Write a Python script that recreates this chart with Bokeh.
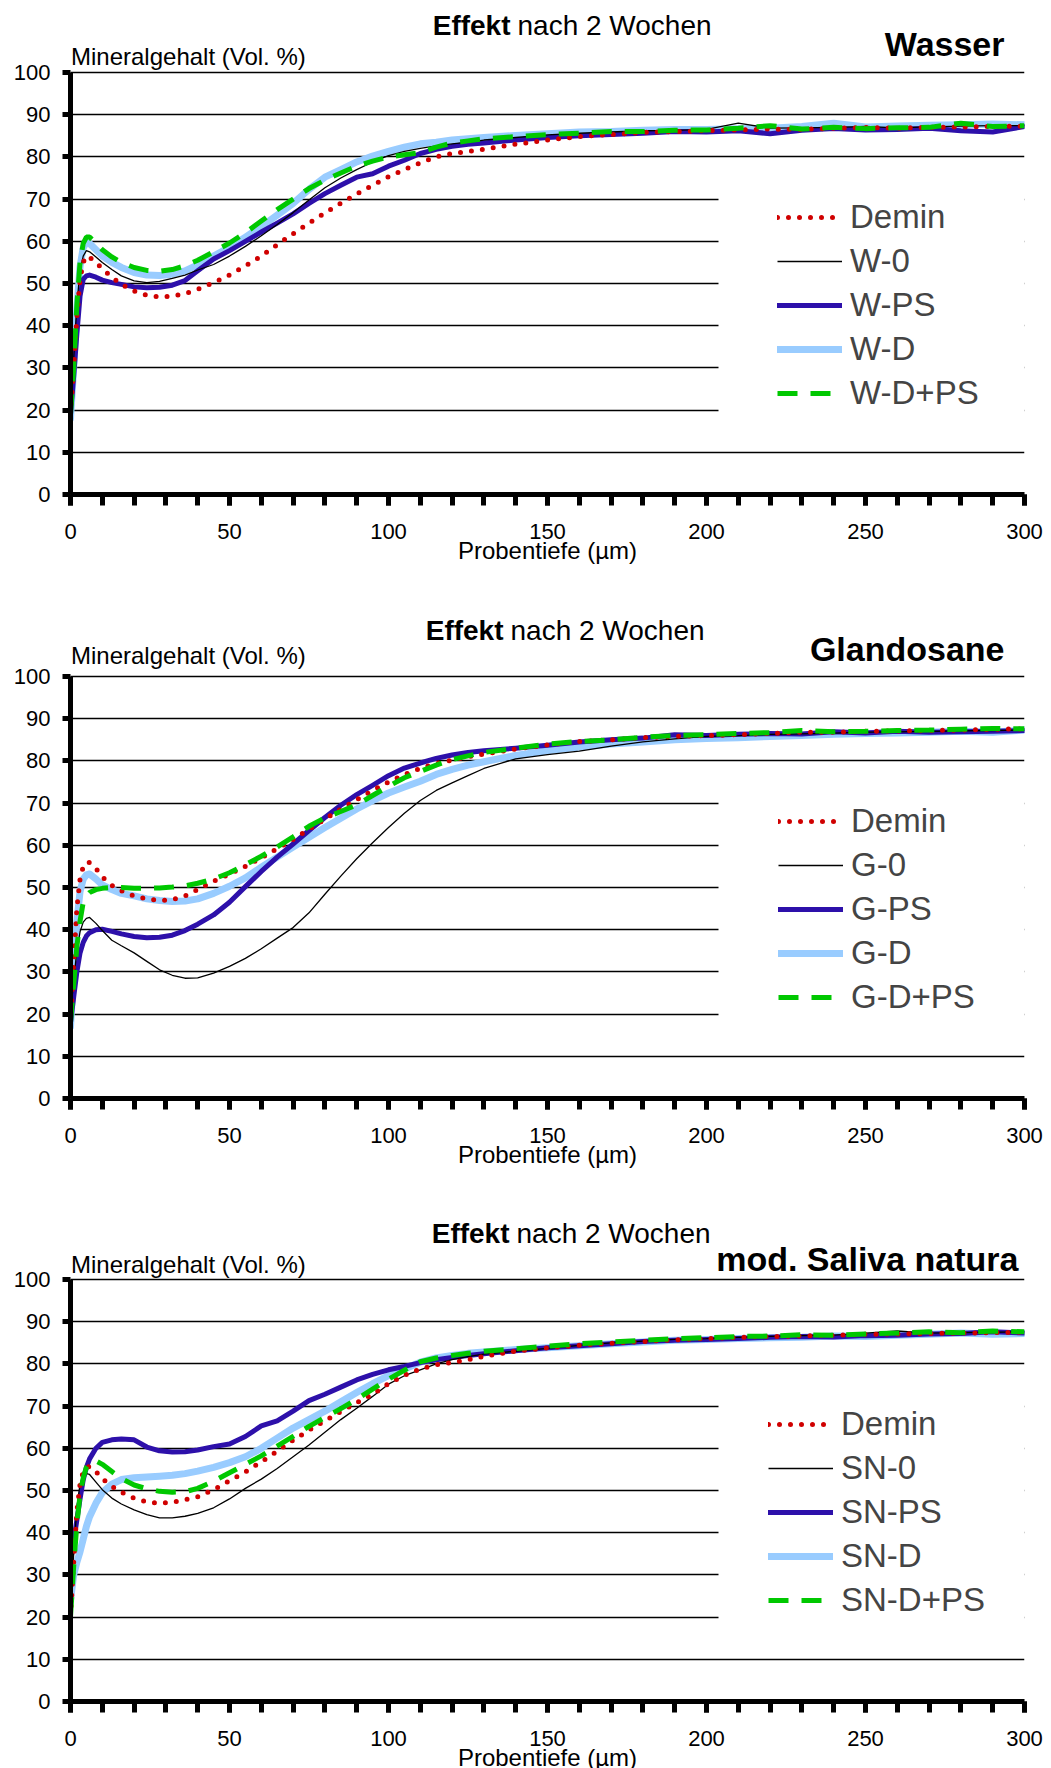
from bokeh.plotting import figure
from bokeh.layouts import column
from bokeh.models import Range1d, FixedTicker, Legend, LegendItem, Label, BoxAnnotation
from bokeh.embed import file_html
from bokeh.resources import INLINE

# ---------------- data ----------------
depth = [0, 1, 2, 3, 4, 5, 6, 8, 10, 13, 16, 20, 24, 28, 32, 36, 40, 45, 50, 55,
         60, 65, 70, 75, 80, 85, 90, 95, 100, 105, 110, 115, 120, 125, 130, 140, 150, 160, 170, 180,
         190, 200, 210, 220, 230, 240, 250, 260, 270, 280, 290, 300]

x_ticks = [0, 50, 100, 150, 200, 250, 300]
y_ticks = [0, 10, 20, 30, 40, 50, 60, 70, 80, 90, 100]

# Panel 1: Wasser
w_demin = [19, 30, 42, 51, 55, 56.5, 56.2, 55, 53.5, 51.5, 49.8, 48.2, 47.2, 46.8, 47, 47.6, 48.6, 50.2, 52, 54.2,
           56.5, 59.2, 61.8, 64.3, 66.7, 69, 71.2, 73.3, 75.3, 77, 78.6, 80, 80.8, 81.3, 81.8, 83, 84, 84.8, 85.3, 85.8,
           86, 86.2, 86.4, 86.6, 86.5, 86.8, 87, 86.8, 87, 87.1, 87.2, 87.3]
w_0 = [20, 32, 45, 53, 56.5, 57.8, 57.5, 56.3, 55, 53.3, 51.8, 50.6, 50.2, 50.5, 51.2, 52, 53.2, 54.5, 56.5, 58.8,
       61.3, 64, 66.8, 69.8, 72.7, 75, 77, 78.8, 80.3, 81.3, 82, 82.6, 83.1, 83.5, 84, 84.6, 85.2, 85.6, 85.9, 86.2,
       86.3, 86.5, 88, 86.8, 86.9, 87, 87.2, 86.9, 87.1, 87.3, 87.4, 87.4]
w_ps = [19, 28, 38, 47, 51, 51.8, 52, 51.5, 50.8, 50.2, 49.8, 49.2, 49, 49.1, 49.6, 50.7, 53, 55.8, 57.8, 60,
        62.2, 64.3, 66.5, 69, 71.3, 73.3, 75.2, 76, 77.8, 79.2, 80.8, 81.8, 82.5, 83, 83.3, 84, 84.6, 85, 85.3, 85.6,
        86, 85.9, 86.2, 85.5, 86.3, 86.7, 86.4, 86.5, 86.8, 86.2, 85.9, 87.2]
w_d = [18, 30, 44, 54, 58.5, 59.8, 59.5, 58, 56.5, 55, 53.8, 52.6, 52, 51.9, 52.2, 53, 54.4, 56.5, 58.6, 61,
       63.5, 66.2, 69, 72.3, 75.2, 77, 78.8, 80.2, 81.3, 82.3, 83.1, 83.5, 84, 84.3, 84.6, 85.1, 85.5, 85.9, 86, 86.3,
       86.5, 86.5, 86.7, 86.8, 87.2, 88, 87.1, 87.3, 87.5, 87.6, 87.8, 87.6]
w_dps = [19, 30, 45, 55, 59.5, 61, 61, 59.5, 58, 56.3, 55, 53.8, 53.1, 52.9, 53.3, 54.2, 55.5, 57.5, 59.6, 62,
         64.8, 67.5, 70, 72.5, 74.5, 76.2, 77.8, 79, 80, 80.5, 81, 82.3, 83.3, 83.8, 84.3, 84.8, 85.3, 85.6, 86, 86,
         86.3, 86.4, 86.8, 87.4, 86.6, 87, 86.7, 86.9, 87, 88, 87.2, 87.4]

# Panel 2: Glandosane
g_demin = [18, 32, 45, 52, 55, 56, 55.9, 54.5, 52.5, 50.5, 49.2, 48, 47.3, 46.9, 47.1, 48, 49.5, 51.5, 53.2, 55,
           57, 59.2, 61.4, 63.8, 66.2, 68.6, 70.8, 73, 75, 76.8, 78.2, 79.4, 80.2, 81, 81.6, 82.8, 83.8, 84.6, 85, 85.5,
           85.8, 86, 86.2, 86.5, 86.8, 86.8, 87, 87.1, 87.2, 87.3, 87.5, 87.6]
g_0 = [20, 28, 35, 39.5, 41.8, 42.7, 42.9, 41.5, 39.8, 37.5, 36.2, 34.5, 32.5, 30.5, 29.2, 28.5, 28.6, 29.7, 31.3, 33.2,
       35.5, 38, 40.5, 44, 48.4, 52.7, 56.8, 60.6, 64.2, 67.6, 70.6, 73, 74.8, 76.5, 78.2, 80.5, 81.5, 82.3, 83.5, 84.5,
       85.2, 85.8, 86, 86.3, 86.4, 86.6, 86.8, 86.9, 87, 87.1, 87.2, 87.3]
g_ps = [18, 24, 30, 34.5, 37, 38.5, 39.3, 40, 40.1, 39.6, 39, 38.4, 38.1, 38.2, 38.7, 39.8, 41.3, 43.5, 46.5, 50.2,
        53.8, 57.2, 60.3, 63.5, 66.6, 69.5, 72, 74.2, 76.5, 78.3, 79.5, 80.6, 81.4, 82, 82.4, 83, 83.7, 84.5, 85, 85.4,
        86.2, 86, 86.3, 86.5, 86.4, 86.9, 86.6, 87, 86.8, 86.9, 87, 87.2]
g_d = [17, 30, 42, 49, 52, 53, 53.2, 52, 50.6, 49.5, 48.6, 48, 47.3, 46.9, 46.7, 46.8, 47.3, 48.6, 50.3, 52.3,
       54.8, 57.2, 59.6, 61.9, 64.2, 66.4, 68.6, 70.6, 72.4, 73.8, 75.2, 76.8, 78, 79, 79.8, 81.3, 82.4, 83.3, 84, 84.5,
       85, 85.3, 85.5, 85.8, 86, 86.3, 86.5, 86.6, 86.8, 87, 86.8, 87.3]
g_dps = [18, 27, 36, 42, 46.5, 48, 48.8, 49.5, 49.8, 50, 50, 49.8, 49.8, 49.9, 50.1, 50.4, 51, 52, 53.5, 55.4,
         57.4, 59.6, 62, 64.5, 66.5, 68, 69.6, 71.8, 74, 76, 77.5, 79, 80.3, 81.2, 82, 83, 84, 84.6, 85, 85.6,
         86, 86.2, 86.5, 86.7, 87.2, 86.9, 87, 87.2, 87.3, 87.5, 87.7, 87.6]

# Panel 3: mod. Saliva natura
s_demin = [20, 33, 45, 51.5, 54.5, 55.5, 55.7, 54.5, 52.8, 51, 49.6, 48.2, 47.3, 47, 47.2, 47.8, 48.5, 50.2, 52.3, 54.4,
           56.8, 59.3, 61.9, 64.3, 66.5, 68.7, 70.8, 72.8, 75.3, 77.3, 78.8, 79.8, 80.3, 81, 81.8, 83, 83.8, 84.4, 84.9, 85.3,
           85.7, 86, 86.3, 86.5, 86.6, 86.8, 87, 87.1, 87.2, 87.3, 87.4, 87.5]
s_0 = [22, 35, 46, 51.5, 53.5, 54, 53.8, 52, 50.2, 48.2, 46.8, 45.4, 44.3, 43.5, 43.5, 43.9, 44.6, 45.9, 48, 50.5,
       52.7, 55.2, 58, 60.8, 63.8, 66.8, 69.5, 72.3, 75.2, 77.2, 78.6, 80, 81, 81.7, 82.3, 83, 83.7, 84.4, 85, 85.4,
       85.8, 86, 86.3, 86.5, 86.7, 86.8, 87.3, 87.8, 87.3, 87.4, 87.5, 87.6]
s_ps = [33, 38, 43, 48, 52.5, 55.5, 57.5, 60, 61.4, 62, 62.2, 62, 60.3, 59.4, 59.1, 59.2, 59.6, 60.4, 61, 62.8,
        65.3, 66.5, 68.8, 71.3, 72.8, 74.5, 76.2, 77.5, 78.6, 79.4, 80.3, 81, 81.5, 82, 82.4, 83.1, 83.8, 84.3, 84.8, 85.3,
        85.6, 85.8, 86, 86.3, 86.5, 86.4, 86.7, 86.8, 87.1, 87.2, 87.6, 87.3]
s_d = [24, 30, 33, 35.5, 38.5, 41.5, 43.8, 47, 49.5, 51.5, 52.6, 53, 53.2, 53.4, 53.6, 54, 54.6, 55.5, 56.6, 58,
       60, 62.4, 64.8, 66.8, 68.8, 71, 73.2, 75.3, 77.2, 78.8, 80.4, 81.4, 82, 82.5, 82.8, 83.4, 83.8, 84.3, 84.8, 85.2,
       85.6, 85.8, 86, 86.2, 86.3, 86.6, 86.5, 86.8, 87, 87.3, 87, 87.2]
s_dps = [20, 32, 42, 49, 53, 55.5, 56.6, 57, 56.2, 54.5, 52.8, 51.3, 50.4, 49.8, 49.6, 49.7, 50.5, 52.2, 54.2, 56.2,
         58.2, 60.5, 62.8, 65.2, 67.3, 69.4, 71.6, 74, 76.4, 78.5, 80.5, 81.4, 82, 82.5, 83, 83.6, 84.2, 84.8, 85.2, 85.6,
         86, 86.2, 86.5, 86.6, 86.9, 86.8, 87.1, 87.3, 87.6, 87.4, 87.8, 87.6]

panel_names = ["Wasser", "Glandosane", "mod. Saliva natura"]
prefixes = ["W", "G", "SN"]
panel_series = [
    [w_demin, w_0, w_ps, w_d, w_dps],
    [g_demin, g_0, g_ps, g_d, g_dps],
    [s_demin, s_0, s_ps, s_d, s_dps],
]
title_bold = "Effekt"
title_rest = "nach 2 Wochen"
y_label = "Mineralgehalt (Vol. %)"
x_label = "Probentiefe (µm)"

# ---------------- style ----------------
FONT = "Liberation Sans"
FRAME_W, FRAME_H = 954, 422          # pixel size of the 0..300 x 0..100 data area
LEFT, RIGHT = 70, 27
RED, DARK, LIGHT, GREEN = "#d00000", "#2d10aa", "#99ccff", "#00c800"

def dx(px):
    return px * 300.0 / FRAME_W

def dy(px):
    return px * 100.0 / FRAME_H

# per panel: (space above y=100 [px], bottom border, legend glyph left, legend first row centre,
#             title split x, title dy, name right x, name dy, ylabel dy)
layouts = [
    (72, 75, 707, 145, 510, 47, 934, 29, 16),
    (107, 75, 708, 145, 503, 46, 934, 28, 21),
    (106, 67, 698, 145, 509, 46, 948, 21, 15),
]

figs = []
for k in range(3):
    top_ext, bottom, lg_x, lg_row, t_x, t_dy, n_x, n_dy, yl_dy = layouts[k]
    fh = FRAME_H + top_ext
    p = figure(frame_width=FRAME_W, frame_height=fh, output_backend="svg", toolbar_location=None,
               x_range=Range1d(0, 300), y_range=Range1d(0, 100.0 * fh / FRAME_H),
               min_border_left=LEFT, min_border_right=RIGHT,
               min_border_top=0, min_border_bottom=bottom)
    p.outline_line_color = None
    p.background_fill_color = "white"
    p.border_fill_color = "white"

    p.xaxis.ticker = FixedTicker(ticks=x_ticks, minor_ticks=list(range(0, 301, 10)))
    p.yaxis.ticker = FixedTicker(ticks=y_ticks)
    p.yaxis.bounds = (0, 100)
    for ax in (p.xaxis[0], p.yaxis[0]):
        ax.axis_line_width = 5
        ax.axis_line_color = "black"
        ax.major_tick_line_width = 5
        ax.minor_tick_line_width = 5
        ax.major_tick_line_color = "black"
        ax.minor_tick_line_color = "black"
        ax.major_tick_in = 0
        ax.minor_tick_in = 0
        ax.major_label_text_font = FONT
        ax.major_label_text_font_size = "22px"
        ax.major_label_text_color = "black"
    p.xaxis.major_tick_out = 11
    p.xaxis.minor_tick_out = 11
    p.xaxis.major_label_standoff = 18
    p.xaxis.axis_label = x_label
    p.xaxis.axis_label_standoff = -5
    p.xaxis.axis_label_text_font = FONT
    p.xaxis.axis_label_text_font_size = "24px"
    p.xaxis.axis_label_text_font_style = "normal"
    p.xaxis.axis_label_text_color = "black"
    p.yaxis.major_tick_out = 8
    p.yaxis.minor_tick_out = 0
    p.yaxis.major_label_standoff = 12

    p.xgrid.visible = False
    p.ygrid.ticker = FixedTicker(ticks=y_ticks)
    p.ygrid.grid_line_color = "black"
    p.ygrid.grid_line_width = 1.4

    demin, s0, sps, sd, sdps = panel_series[k]
    pre = prefixes[k]
    r_d = p.line(depth, sd, line_color=LIGHT, line_width=7, line_join="round", line_cap="round")
    r_ps = p.line(depth, sps, line_color=DARK, line_width=5, line_join="round", line_cap="round")
    r_0 = p.line(depth, s0, line_color="black", line_width=1.3)
    r_dm = p.line(depth, demin, line_color=RED, line_width=5, line_dash="0 11", line_cap="round")
    r_dps = p.line(depth, sdps, line_color=GREEN, line_width=5, line_dash="20 13")

    # white background area behind the legend (hides the grid lines there)
    row_h = 44
    bg_top = lg_row - row_h / 2 - 30
    bg_bot = lg_row + 4 * row_h + row_h / 2 + 30
    p.add_layout(BoxAnnotation(left=dx(648), right=300, top=100 - dy(bg_top), bottom=100 - dy(bg_bot),
                               fill_color="white", fill_alpha=1.0, line_alpha=0))

    items = [
        LegendItem(label="Demin", renderers=[r_dm]),
        LegendItem(label=pre + "-0", renderers=[r_0]),
        LegendItem(label=pre + "-PS", renderers=[r_ps]),
        LegendItem(label=pre + "-D", renderers=[r_d]),
        LegendItem(label=pre + "-D+PS", renderers=[r_dps]),
    ]
    pad = 10
    box_top = lg_row - row_h / 2 - pad
    box_h = 2 * pad + 5 * row_h
    legend = Legend(items=items, location=(lg_x - pad, FRAME_H - box_top - box_h),
                    padding=pad, spacing=0, margin=0,
                    glyph_width=65, glyph_height=row_h, label_height=row_h,
                    label_width=170, label_standoff=8,
                    label_text_font=FONT, label_text_font_size="33px",
                    label_text_baseline="middle",
                    border_line_alpha=0, background_fill_color="white",
                    background_fill_alpha=1.0)
    p.add_layout(legend)

    p.add_layout(Label(x=dx(t_x - LEFT), y=100 + dy(t_dy), text=title_bold,
                       text_font=FONT, text_font_size="28px", text_font_style="bold",
                       text_align="right", text_baseline="middle", text_color="black"))
    p.add_layout(Label(x=dx(t_x - LEFT + 7), y=100 + dy(t_dy), text=title_rest,
                       text_font=FONT, text_font_size="28px", text_align="left",
                       text_baseline="middle", text_color="black"))
    p.add_layout(Label(x=dx(n_x), y=100 + dy(n_dy), text=panel_names[k],
                       text_font=FONT, text_font_size="34px", text_font_style="bold",
                       text_align="right", text_baseline="middle", text_color="black"))
    p.add_layout(Label(x=dx(0.5), y=100 + dy(yl_dy), text=y_label,
                       text_font=FONT, text_font_size="24px", text_align="left",
                       text_baseline="middle", text_color="black"))
    figs.append(p)

layout = column(*figs, spacing=0)
open("out.html", "w").write(file_html(layout, INLINE))
